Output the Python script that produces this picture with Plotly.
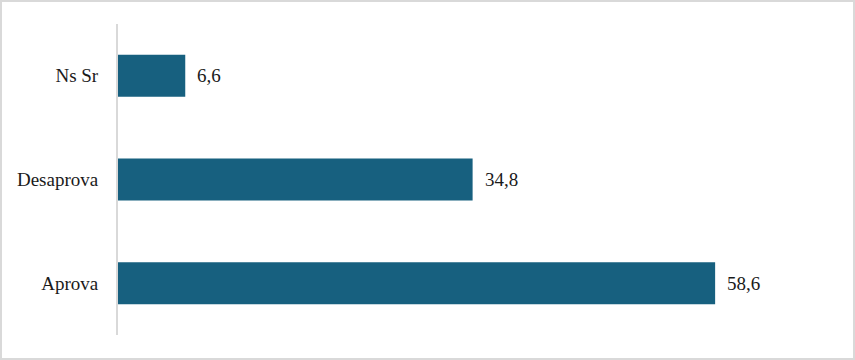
import plotly.graph_objects as go

categories = ["Aprova", "Desaprova", "Ns Sr"]
values = [58.6, 34.8, 6.6]
labels = [f"{v:.1f}".replace(".", ",") for v in values]

BAR = "#17607f"
FONT = "Liberation Serif"

L, T, R, B = 118, 24, 24, 25
W, H = 855, 360
pw, ph = W - L - R, H - T - B

fig = go.Figure(go.Bar(
    x=values, y=categories, orientation="h",
    marker=dict(color=BAR, line=dict(width=0)),
    hoverinfo="skip",
))

for c, v, t in zip(categories, values, labels):
    fig.add_annotation(x=v, y=c, text=t, showarrow=False, xanchor="left",
                       xshift=10, font=dict(family=FONT, size=19, color="#1a1a1a"))

# outer border
fig.add_shape(type="rect", xref="paper", yref="paper",
              x0=(1 - L) / pw, x1=(W - 1 - L) / pw,
              y0=(H - B - (H - 1)) / ph, y1=(H - B - 1) / ph,
              line=dict(color="#d9d9d9", width=2), fillcolor="rgba(0,0,0,0)", layer="below")

fig.update_layout(
    width=W, height=H,
    margin=dict(l=L, r=R, t=T, b=B),
    paper_bgcolor="white", plot_bgcolor="white",
    bargap=0.595,
    showlegend=False,
    font=dict(family=FONT, size=19, color="#1a1a1a"),
    xaxis=dict(range=[0, pw / 10.19], visible=False, showgrid=False, zeroline=False),
    yaxis=dict(showline=True, linecolor="#d9d9d9", linewidth=2, showgrid=False,
               zeroline=False, ticks="", ticklabelstandoff=14,
               tickfont=dict(family=FONT, size=19, color="#1a1a1a")),
)

fig.write_html("out.html")
